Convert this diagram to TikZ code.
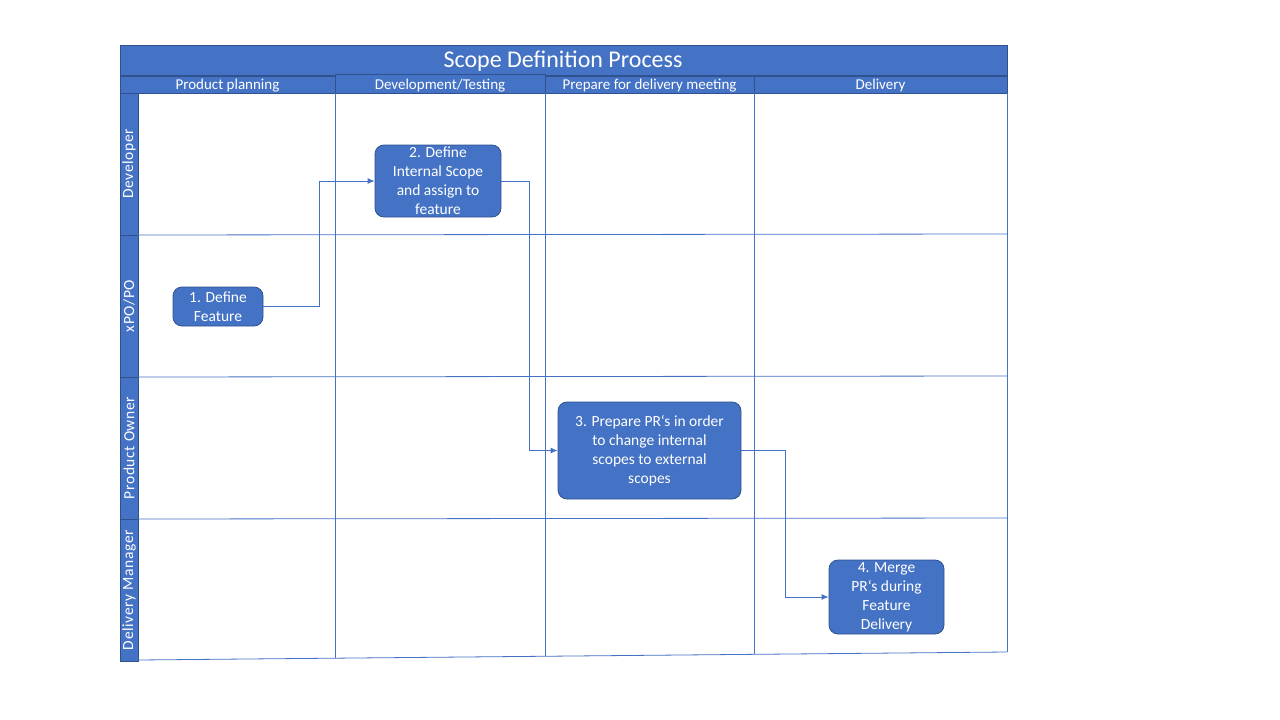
\documentclass[tikz,border=0pt]{standalone}
\usepackage{fontspec}
\setmainfont{Carlito}
\usetikzlibrary{arrows.meta}
\definecolor{bfill}{HTML}{4472C4}
\definecolor{bdark}{HTML}{2F528F}
\begin{document}
\begin{tikzpicture}[x=1pt,y=-1pt,
  hdr/.style={draw=bdark,fill=bfill,line width=0.8pt},
  hdrtext/.style={text=white,font=\fontsize{15}{17}\selectfont,inner sep=0pt},
  lanetext/.style={text=white,font=\fontsize{15.5}{17}\selectfont\addfontfeature{LetterSpace=4},inner sep=0pt,rotate=90},
  grid/.style={draw=bfill,line width=0.8pt},
  proc/.style={draw=bdark,fill=bfill,rounded corners=9pt,text=white,align=center,
    font=\fontsize{15.5}{19}\selectfont,inner sep=0pt,line width=0.8pt},
  conn/.style={draw=bfill,line width=0.8pt,-{Latex[length=7pt,width=6pt]}}
]
\useasboundingbox (0,0) rectangle (1280,720);
% title
\draw[hdr] (120,45) rectangle (1007,75);
\node[hdrtext,font=\fontsize{24}{26}\selectfont] (title) at (563,61) {Scope Definition Process};
% column headers
\draw[hdr] (120,76) rectangle (335,93);
\draw[hdr] (335,74) rectangle (545,93);
\draw[hdr] (545,76) rectangle (754,93);
\draw[hdr] (754,76) rectangle (1007,93);
\node[hdrtext] (c1) at (227.5,85.5) {Product planning};
\node[hdrtext] (c2) at (440,85.5) {Development/Testing};
\node[hdrtext] (c3) at (649.5,85.5) {Prepare for delivery meeting};
\node[hdrtext] (c4) at (880.5,85.5) {Delivery};
% lane label column
\draw[hdr] (120,93) rectangle (138,235);
\draw[hdr] (120,235) rectangle (138,377);
\draw[hdr] (120,377) rectangle (138,519);
\draw[hdr] (120,519) rectangle (138,661);
\node[lanetext] (l1) at (129,164) {Developer};
\node[lanetext] (l2) at (129,306) {xPO/PO};
\node[lanetext] (l3) at (129,448) {Product Owner};
\node[lanetext] (l4) at (129,590) {Delivery Manager};
% grid
\draw[grid] (138,235) -- (1007,234);
\draw[grid] (138,377) -- (1007,376);
\draw[grid] (138,519) -- (1007,518);
\draw[grid] (138,660) -- (1007,652);
\draw[grid] (335,93) -- (335,658);
\draw[grid] (545,93) -- (545,656);
\draw[grid] (754,93) -- (754,654);
\draw[grid] (1007,93) -- (1007,652);
% process boxes
\node[proc,minimum width=90pt,minimum height=39pt] (n1) at (218,306.5) {1. Define\\Feature};
\node[proc,minimum width=126pt,minimum height=72pt] (n2) at (438,181) {2. Define\\Internal Scope\\and assign to\\feature};
\node[proc,minimum width=183pt,minimum height=97pt] (n3) at (649.5,450.5) {3. Prepare PR‘s in order\\to change internal\\scopes to external\\scopes};
\node[proc,minimum width=115pt,minimum height=74pt] (n4) at (886.5,597) {4. Merge\\PR‘s during\\Feature\\Delivery};
% connectors
\draw[conn] (n1.east) -- (319,306.5) |- (n2.west);
\draw[conn] (n2.east) -- (529,181) |- (n3.west);
\draw[conn] (n3.east) -- (785,450.5) |- (n4.west);
\end{tikzpicture}
\end{document}
